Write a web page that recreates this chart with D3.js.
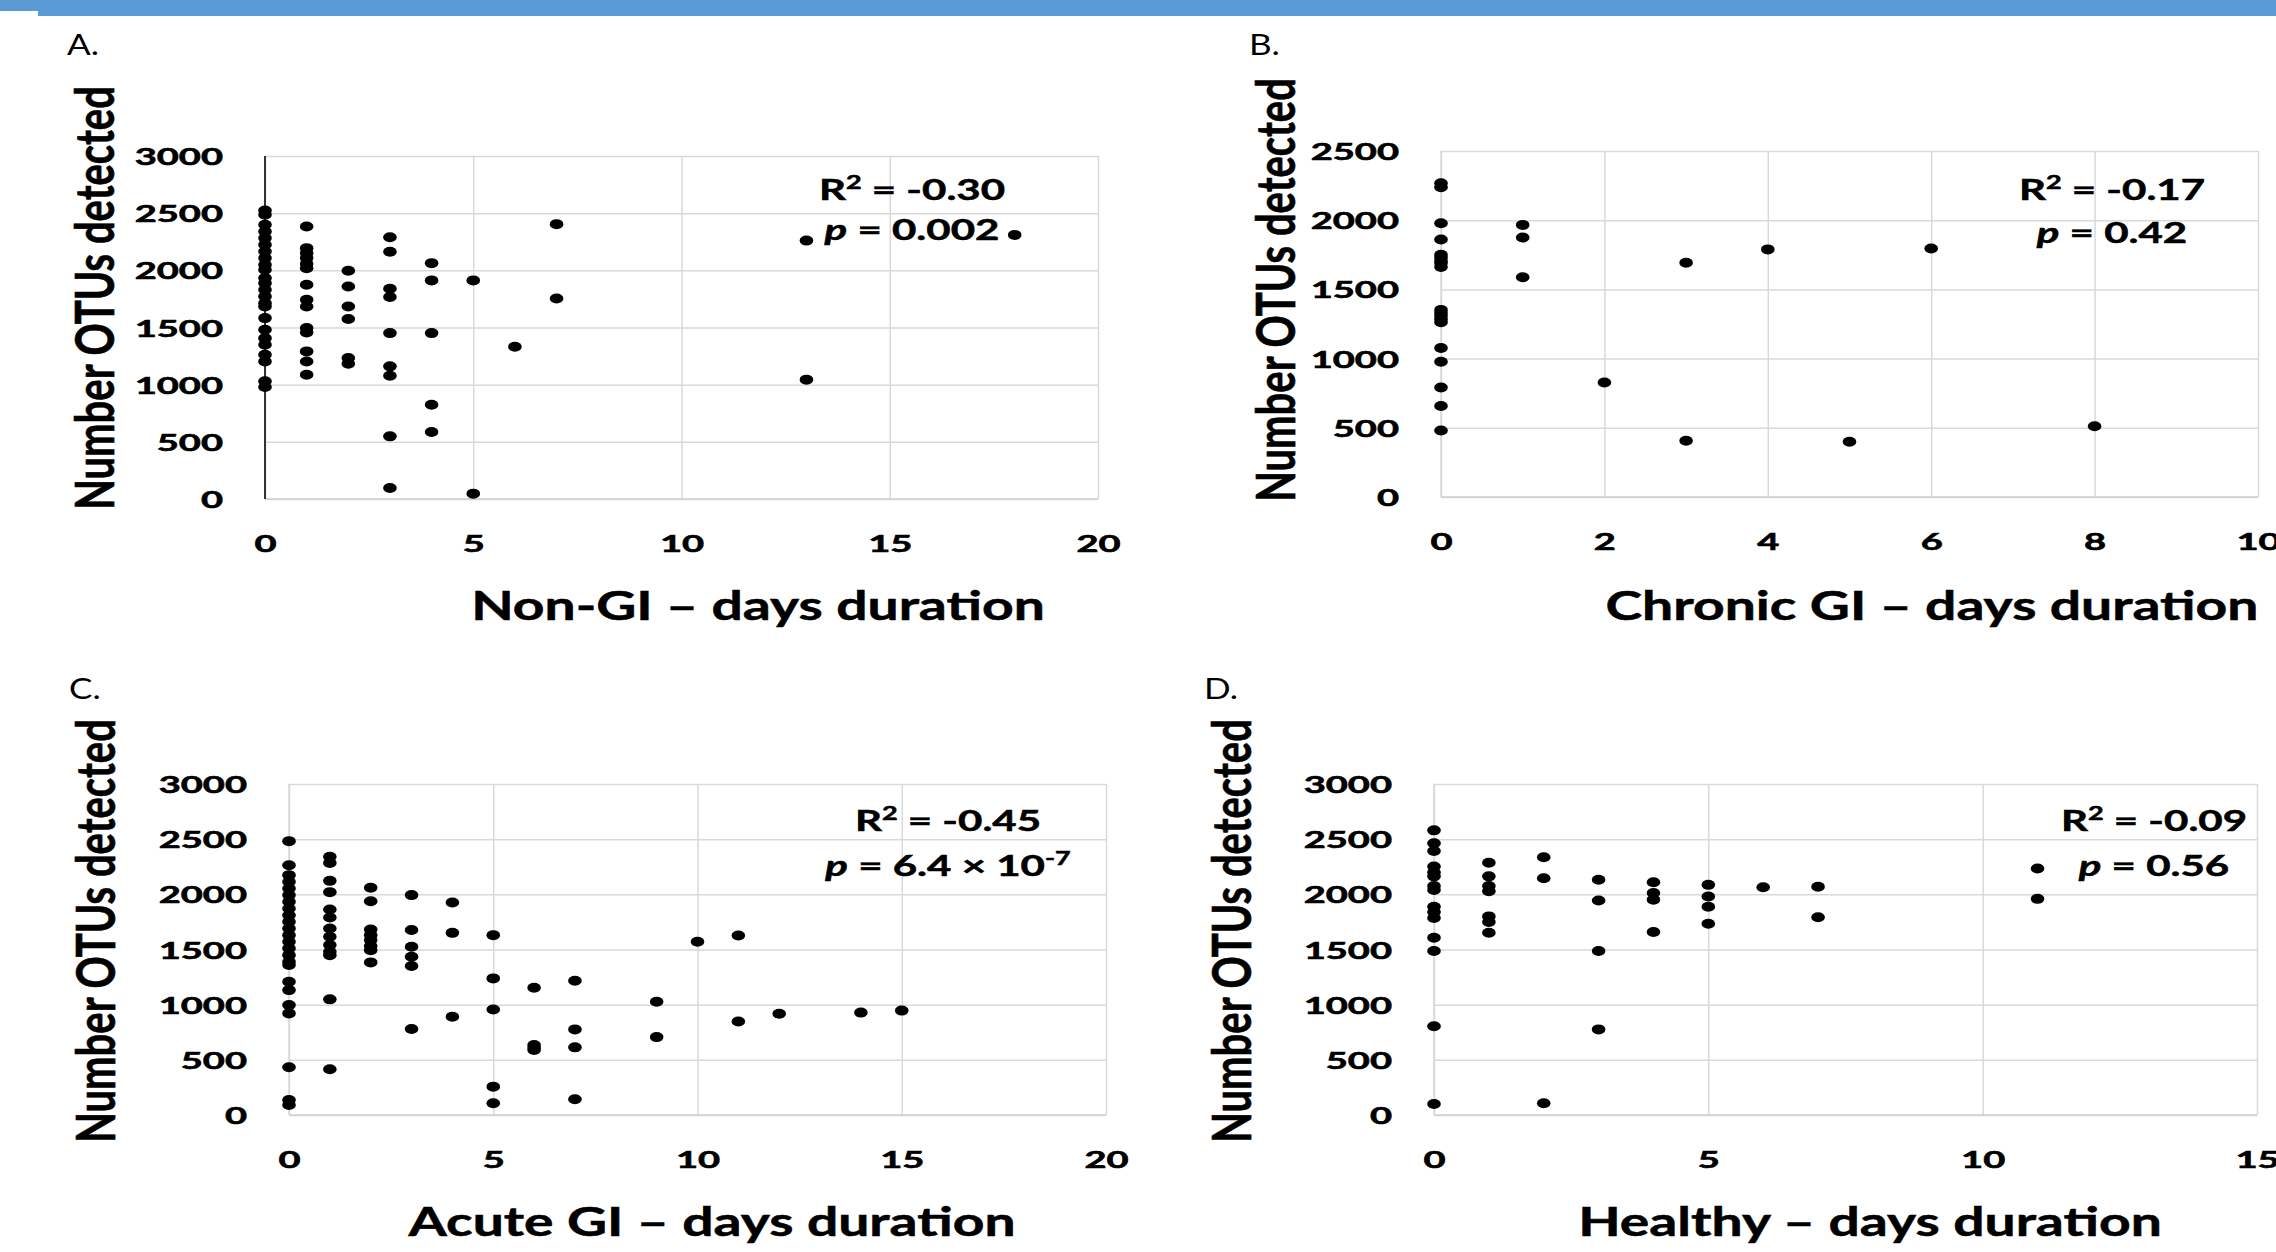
<!DOCTYPE html>
<html>
<head>
<meta charset="utf-8">
<script src="https://cdn.jsdelivr.net/npm/d3@7"></script>
<style>
  body { margin: 0; background: #fff; }
  svg { display: block; font-family: Lato, "Liberation Sans", sans-serif; }
</style>
</head>
<body>
<svg id="chart" width="2276" height="1252"></svg>
<script>
// days duration vs number of OTUs detected, one array per group
const nonGI = [
  [0, 2523], [0, 2486], [0, 2398], [0, 2340], [0, 2282], [0, 2223], [0, 2165], [0, 2107],
  [0, 2049], [0, 2005], [0, 1932], [0, 1888], [0, 1830], [0, 1772], [0, 1713], [0, 1684],
  [0, 1582], [0, 1480], [0, 1407], [0, 1349], [0, 1262], [0, 1203], [0, 1029], [0, 979],
  [1, 2384], [1, 2194], [1, 2151], [1, 2107], [1, 2057], [1, 2019], [1, 1874], [1, 1743],
  [1, 1684], [1, 1495], [1, 1457], [1, 1291], [1, 1203], [1, 1087],
  [2, 1996], [2, 1859], [2, 1684], [2, 1574], [2, 1233], [2, 1183],
  [3, 2290], [3, 2162], [3, 1839], [3, 1766], [3, 1451], [3, 1160], [3, 1078], [3, 548], [3, 96],
  [4, 2063], [4, 1912], [4, 1451], [4, 825], [4, 586],
  [5, 1912], [5, 47], [6, 1332], [7, 2404], [7, 1754],
  [13, 2260], [13, 1044], [18, 2310]
];
const chronicGI = [
  [0, 2267], [0, 2238], [0, 1978], [0, 1860], [0, 1751], [0, 1730], [0, 1706], [0, 1690],
  [0, 1662], [0, 1352], [0, 1330], [0, 1308], [0, 1285], [0, 1263], [0, 1077], [0, 977],
  [0, 791], [0, 658], [0, 481],
  [1, 1966], [1, 1875], [1, 1588], [2, 827], [3, 1692], [3, 407],
  [4, 1789], [5, 399], [6, 1795], [8, 511]
];
const acuteGI = [
  [0, 2482], [0, 2264], [0, 2174], [0, 2113], [0, 2053], [0, 1993], [0, 1932], [0, 1872],
  [0, 1811], [0, 1751], [0, 1691], [0, 1630], [0, 1570], [0, 1510], [0, 1449], [0, 1389],
  [0, 1359], [0, 1208], [0, 1132], [0, 996], [0, 921], [0, 432], [0, 136], [0, 91],
  [1, 2340], [1, 2285], [1, 2122], [1, 2020], [1, 1863], [1, 1790], [1, 1691], [1, 1615],
  [1, 1540], [1, 1479], [1, 1449], [1, 1048], [1, 414],
  [2, 2059], [2, 1938], [2, 1682], [2, 1630], [2, 1585], [2, 1531], [2, 1494], [2, 1383],
  [3, 1993], [3, 1676], [3, 1525], [3, 1434], [3, 1350], [3, 779],
  [4, 1926], [4, 1651], [4, 891],
  [5, 1630], [5, 1238], [5, 957], [5, 257], [5, 106],
  [6, 1153], [6, 634], [6, 610], [6, 589],
  [7, 1217], [7, 776], [7, 613], [7, 142],
  [9, 1027], [9, 706], [10, 1570], [11, 1627], [11, 847], [12, 918], [14, 928], [15, 946]
];
const healthy = [
  [0, 2580], [0, 2463], [0, 2393], [0, 2252], [0, 2199], [0, 2163], [0, 2075], [0, 2040],
  [0, 1888], [0, 1839], [0, 1786], [0, 1606], [0, 1486], [0, 805], [0, 99],
  [1, 2287], [1, 2163], [1, 2075], [1, 2029], [1, 1800], [1, 1750], [1, 1652],
  [2, 2336], [2, 2146], [2, 106],
  [3, 2132], [3, 1944], [3, 1486], [3, 776],
  [4, 2110], [4, 2012], [4, 1952], [4, 1659],
  [5, 2086], [5, 1980], [5, 1888], [5, 1733],
  [6, 2064], [7, 2068], [7, 1793], [11, 2234], [11, 1959]
];

const panelLabels = ['A.', 'B.', 'C.', 'D.'];
const groupNames = ['Non-GI', 'Chronic GI', 'Acute GI', 'Healthy'];
const xTicks20 = [0, 5, 10, 15, 20];
const xTicks10 = [0, 2, 4, 6, 8, 10];
const xTicks15 = [0, 5, 10, 15];
const yTicks3000 = [0, 500, 1000, 1500, 2000, 2500, 3000];
const yTicks2500 = [0, 500, 1000, 1500, 2000, 2500];
const r2Values = ['-0.30', '-0.17', '-0.45', '-0.09'];
const pValues = ['0.002', '0.42', '6.4 × 10', '0.56'];
const pExponents = ['', '', '-7', ''];

// layout of the four plots (page pixels)
const panels = [
  { data: nonGI, xTicks: xTicks20, yTicks: yTicks3000, left: 265, right: 1098, top: 156, bottom: 499,
    label: [67, 55], yTitle: [114, 298], xTitle: [758, 620], stats: [912, 200, 240], darkAxis: true },
  { data: chronicGI, xTicks: xTicks10, yTicks: yTicks2500, left: 1441, right: 2258, top: 151, bottom: 497,
    label: [1249, 55], yTitle: [1295, 290], xTitle: [1932, 620], stats: [2112, 200, 243], darkAxis: false },
  { data: acuteGI, xTicks: xTicks20, yTicks: yTicks3000, left: 289, right: 1106, top: 784, bottom: 1115,
    label: [69, 699], yTitle: [115, 931], xTitle: [712, 1236], stats: [948, 831, 876], darkAxis: false },
  { data: healthy, xTicks: xTicks15, yTicks: yTicks3000, left: 1434, right: 2257, top: 784, bottom: 1115,
    label: [1204, 699], yTitle: [1251, 931], xTitle: [1870, 1236], stats: [2154, 831, 876], darkAxis: false }
];

const svg = d3.select('#chart');

// blue band along the top
svg.append('rect').attr('x', 0).attr('y', 0).attr('width', 2276).attr('height', 11).attr('fill', '#5b9bd5');
svg.append('rect').attr('x', 38).attr('y', 0).attr('width', 2238).attr('height', 16).attr('fill', '#5b9bd5');

// the picture is stretched sideways, so text is widened
function wideText(parent, x, y, sx, size, weight, anchor) {
  const t = parent.append('text')
    .attr('transform', `translate(${x},${y}) scale(${sx},1)`)
    .attr('text-anchor', anchor)
    .style('font-size', size + 'px')
    .style('font-weight', weight)
    .attr('fill', '#000');
  if (weight === 'bold') t.attr('stroke', '#000').attr('stroke-width', 0.5);
  return t;
}

panels.forEach((p, i) => {
  const g = svg.append('g');
  const x = d3.scaleLinear().domain(d3.extent(p.xTicks)).range([p.left, p.right]);
  const y = d3.scaleLinear().domain(d3.extent(p.yTicks)).range([p.bottom, p.top]);

  // horizontal grid + y labels
  const ya = g.append('g')
    .attr('transform', `translate(${p.left},0)`)
    .call(d3.axisLeft(y).tickValues(p.yTicks).tickSize(-(p.right - p.left)).tickFormat(d3.format('d')));
  ya.select('.domain').remove();
  ya.selectAll('.tick line').attr('stroke', '#d9d9d9').attr('stroke-width', 1.5);
  ya.selectAll('.tick text')
    .attr('x', null).attr('dy', null)
    .attr('transform', 'translate(-42,8.5) scale(1.62,1)')
    .style('font-family', 'Lato, "Liberation Sans", sans-serif')
    .style('font-size', '23.5px').style('font-weight', 'bold')
    .attr('fill', '#000').attr('stroke', '#000').attr('stroke-width', 0.6);

  // vertical grid + x labels
  const xa = g.append('g')
    .attr('transform', `translate(0,${p.bottom})`)
    .call(d3.axisBottom(x).tickValues(p.xTicks).tickSize(-(p.bottom - p.top)).tickFormat(d3.format('d')));
  xa.select('.domain').remove();
  xa.selectAll('.tick line').attr('stroke', '#d9d9d9').attr('stroke-width', 1.5);
  xa.selectAll('.tick text')
    .attr('y', null).attr('dy', null)
    .attr('transform', 'translate(0,53) scale(1.62,1)')
    .style('font-family', 'Lato, "Liberation Sans", sans-serif')
    .style('font-size', '23.5px').style('font-weight', 'bold')
    .attr('fill', '#000').attr('stroke', '#000').attr('stroke-width', 0.6);

  // axis lines
  g.append('line').attr('x1', p.left).attr('x2', p.right).attr('y1', p.bottom).attr('y2', p.bottom)
    .attr('stroke', '#cfcfcf').attr('stroke-width', 1.5);
  g.append('line').attr('x1', p.left).attr('x2', p.left).attr('y1', p.top).attr('y2', p.bottom)
    .attr('stroke', p.darkAxis ? '#333' : '#d9d9d9').attr('stroke-width', p.darkAxis ? 2 : 1.5);

  // points
  g.append('g').selectAll('ellipse')
    .data(p.data)
    .join('ellipse')
    .attr('cx', d => x(d[0]))
    .attr('cy', d => y(d[1]))
    .attr('rx', 6.8)
    .attr('ry', 5)
    .attr('fill', '#000');

  // panel letter
  wideText(g, p.label[0], p.label[1], 1.25, 28, 'normal', 'start').text(panelLabels[i]);

  // axis titles
  wideText(g, p.xTitle[0], p.xTitle[1], 1.38, 40, 'bold', 'middle').text(groupNames[i] + ' – days duration');
  g.append('text')
    .attr('transform', `translate(${p.yTitle[0]},${p.yTitle[1]}) rotate(-90) scale(1,1.36)`)
    .attr('text-anchor', 'middle')
    .style('font-size', '40px').style('font-weight', 'bold')
    .attr('stroke', '#000').attr('stroke-width', 0.5)
    .text('Number OTUs detected');

  // statistics
  const r2 = wideText(g, p.stats[0], p.stats[1], 1.5, 28, 'bold', 'middle');
  r2.append('tspan').text('R');
  r2.append('tspan').attr('dy', -11).style('font-size', '18px').text('2');
  r2.append('tspan').attr('dy', 11).text(' = ' + r2Values[i]);

  const pv = wideText(g, p.stats[0], p.stats[2], 1.5, 28, 'bold', 'middle');
  pv.append('tspan').style('font-style', 'italic').text('p');
  pv.append('tspan').text(' = ' + pValues[i]);
  if (pExponents[i]) {
    pv.append('tspan').attr('dy', -11).style('font-size', '18px').text(pExponents[i]);
  }
});
</script>
</body>
</html>
